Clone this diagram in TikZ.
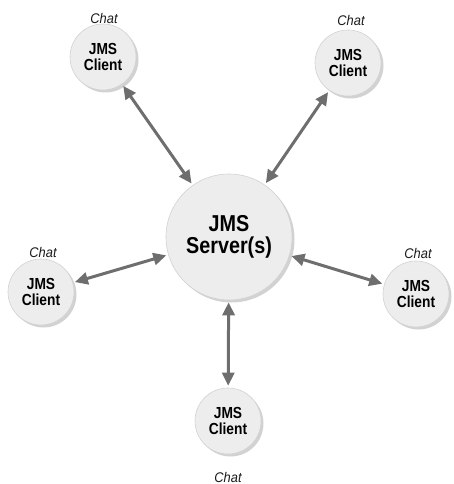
\documentclass[tikz,border=0pt]{standalone}
\usepackage{fontspec}
\setmainfont{Liberation Sans}
\newfontfamily\condfont[FakeStretch=0.86]{Liberation Sans}
\newfontfamily\chatfont[FakeStretch=0.92]{Liberation Sans}
\usetikzlibrary{arrows.meta,shadows}
\definecolor{arrowgray}{HTML}{6E6E6E}
\definecolor{ballfill}{HTML}{EDEDED}
\definecolor{ballrim}{HTML}{D2D2D2}
\definecolor{chatgray}{HTML}{1A1A1A}
\tikzset{
  ball/.style={circle, fill=ballfill, draw=ballrim, line width=0.6pt,
    inner sep=0pt, align=center,
    drop shadow={shadow xshift=2.5pt, shadow yshift=-2.5pt, fill=gray!70}},
  client/.style={ball, minimum size=66pt, font=\condfont\fontsize{16}{15.5}\selectfont\bfseries},
  server/.style={ball, minimum size=126pt, font=\condfont\fontsize{23}{21.5}\selectfont\bfseries},
  chatlbl/.style={font=\chatfont\fontsize{14}{14}\selectfont\itshape, text=chatgray, inner sep=0pt},
  link/.style={arrowgray, line width=3pt,
    {Triangle[length=13pt,width=12pt]}-{Triangle[length=13pt,width=12pt]}, shorten <=2pt, shorten >=2pt}
}
\begin{document}
\begin{tikzpicture}[x=1pt,y=-1pt]
\useasboundingbox (0,0) rectangle (454,484);
\node[server] (s) at (229,237) {JMS\\Server(s)};
\node[client] (c1) at (103,57) {JMS\\Client};
\node[client] (c2) at (348,63) {JMS\\Client};
\node[client] (c3) at (41,292) {JMS\\Client};
\node[client] (c4) at (416,294) {JMS\\Client};
\node[client] (c5) at (228,421) {JMS\\Client};
\node[chatlbl] (t1) at (104,18) {Chat};
\node[chatlbl] (t2) at (351,20) {Chat};
\node[chatlbl] (t3) at (43,252) {Chat};
\node[chatlbl] (t4) at (418,253) {Chat};
\node[chatlbl] (t5) at (228,477) {Chat};
\draw[link] (c1) -- (s);
\draw[link] (c2) -- (s);
\draw[link] (c3) -- (s);
\draw[link] (c4) -- (s);
\draw[link] (c5) -- (s);
\end{tikzpicture}
\end{document}
